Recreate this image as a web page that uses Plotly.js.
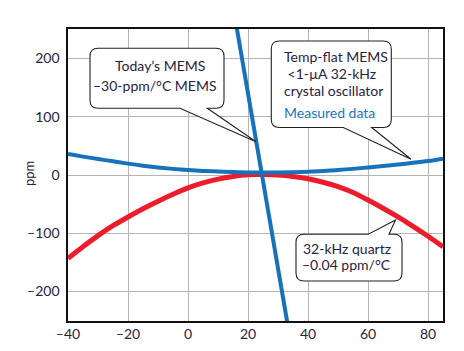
<!DOCTYPE html>
<html>
<head>
<meta charset="utf-8">
<script src="https://cdn.plot.ly/plotly-3.0.1.min.js"></script>
<style>html,body{margin:0;padding:0;background:#fff;}#chart{width:464px;height:351px;}</style>
</head>
<body>
<div id="chart"></div>
<script>
// ---- data ----
const temps = [-40,-35,-30,-25,-20,-15,-10,-5,0,5,10,15,20,25,30,35,40,45,50,55,60,65,70,75,80,85];
const tempFlatMems = [36,31.5,27.5,23.5,19.5,16,13,10.5,8.5,7,6,5,4.5,4.3,4.3,4.8,5.6,7,8.5,10.5,13,15.5,18,21,24,28];
const quartz = [-143,-123,-104,-87,-72,-58,-45,-33,-22,-13.5,-7,-2.5,0.5,1,0,-2.5,-6.5,-12.5,-20,-30,-43,-57,-72,-88,-105,-123];
const todayTemps = [15,20,25,30,35];
const todayMems = [290,140,-10,-160,-310];
const xTicks = [-40,-20,0,20,40,60,80];
const yTicks = [-200,-100,0,100,200];

// ---- layout geometry ----
const W = 464, H = 351;
const M = {l:68, r:21, t:29, b:30};
const PW = W - M.l - M.r, PH = H - M.t - M.b;
const px = x => (x - M.l) / PW;
const py = y => (M.t + PH - y) / PH;
const P = (x, y) => px(x).toFixed(4) + ',' + py(y).toFixed(4);

function callout(x0, y0, x1, y1, r, side, a, b, tx, ty) {
  let d = 'M' + P(x0 + r, y0);
  if (side === 'top') d += ' L' + P(a, y0) + ' L' + P(tx, ty) + ' L' + P(b, y0);
  d += ' L' + P(x1 - r, y0) + ' Q' + P(x1, y0) + ' ' + P(x1, y0 + r);
  d += ' L' + P(x1, y1 - r) + ' Q' + P(x1, y1) + ' ' + P(x1 - r, y1);
  if (side === 'bottom') d += ' L' + P(b, y1) + ' L' + P(tx, ty) + ' L' + P(a, y1);
  d += ' L' + P(x0 + r, y1) + ' Q' + P(x0, y1) + ' ' + P(x0, y1 - r);
  d += ' L' + P(x0, y0 + r) + ' Q' + P(x0, y0) + ' ' + P(x0 + r, y0) + ' Z';
  return {type:'path', xref:'paper', yref:'paper', path:d, fillcolor:'#ffffff',
          line:{color:'#222222', width:1.1}, layer:'above'};
}

const txtColor = '#26233f';
const FONT = 'Lato, "Open Sans", sans-serif';
function label(text, x, y, anchor, color, size, angle) {
  return {xref:'paper', yref:'paper', x:px(x), y:py(y), text:text, showarrow:false,
          xanchor:anchor, yanchor:'middle', textangle:angle || 0,
          font:{family:FONT, size:size || 14, color:color || txtColor}};
}

const traces = [
  {x:temps, y:quartz, mode:'lines', line:{color:'#ee1c2a', width:5, shape:'spline', smoothing:1}, hoverinfo:'skip'},
  {x:temps, y:tempFlatMems, mode:'lines', line:{color:'#1672ba', width:4, shape:'spline', smoothing:1}, hoverinfo:'skip'},
  {x:todayTemps, y:todayMems, mode:'lines', line:{color:'#1672ba', width:4}, hoverinfo:'skip'}
];

const layout = {
  width:W, height:H, margin:M, showlegend:false,
  paper_bgcolor:'#ffffff', plot_bgcolor:'#ffffff',
  font:{family:FONT, color:txtColor},
  xaxis:{range:[-40,85], tickvals:xTicks, ticktext:xTicks.map(v => v < 0 ? '\u2013' + (-v) : String(v)),
         showgrid:true, gridcolor:'#b5b5b5', gridwidth:1, zeroline:false,
         showline:true, linecolor:'#111111', linewidth:1.6, mirror:true, ticks:'',
         tickfont:{family:FONT, size:14, color:txtColor}},
  yaxis:{range:[-250.5,250.5], tickvals:yTicks, ticktext:yTicks.map(v => v < 0 ? '\u2013' + (-v) : String(v)),
         showgrid:true, gridcolor:'#b5b5b5', gridwidth:1, zeroline:false,
         showline:true, linecolor:'#111111', linewidth:1.6, mirror:true, ticks:'',
         ticklabelstandoff:4,
         tickfont:{family:FONT, size:14, color:txtColor}},
  shapes:[
    callout(90, 48.3, 224, 108.3, 8, 'bottom', 180, 207.3, 256, 141.7),
    callout(271.3, 41, 391.3, 127.5, 8, 'bottom', 343.3, 371.7, 411, 159.3),
    callout(296, 234.3, 402, 281, 8, 'top', 368.3, 389, 395.5, 220)
  ],
  annotations:[
    label('ppm', 29, 174, 'center', txtColor, 13, -90),
    label('Today\u2019s MEMS', 159.5, 66, 'center'),
    label('\u201330-ppm/\u00B0C MEMS', 155, 85, 'center'),
    label('Temp-flat MEMS', 282, 56.7, 'left'),
    label(' &lt;1-\u00B5A 32-kHz', 282, 74, 'left'),
    label('crystal oscillator', 282, 91, 'left'),
    label('Measured data', 282, 112, 'left', '#1a76c0'),
    label('32-kHz quartz', 347.3, 248.3, 'center'),
    label('\u20130.04 ppm/\u00B0C', 346, 264.3, 'center')
  ]
};

Plotly.newPlot('chart', traces, layout, {staticPlot:true, displayModeBar:false});
</script>
</body>
</html>
